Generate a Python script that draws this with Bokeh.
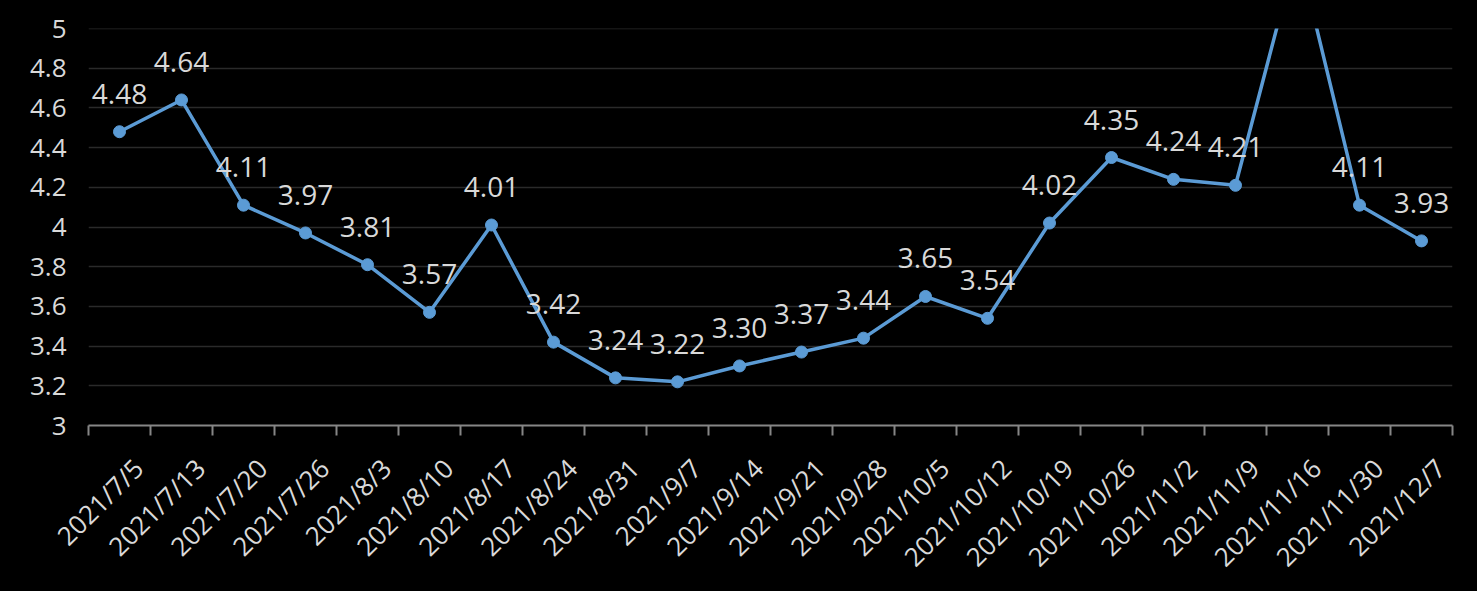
from bokeh.plotting import figure
from bokeh.models import ColumnDataSource, Range1d, FixedTicker
from bokeh.core.properties import value
from bokeh.embed import file_html
from bokeh.resources import INLINE
import math

dates = ["2021/7/5", "2021/7/13", "2021/7/20", "2021/7/26", "2021/8/3", "2021/8/10",
         "2021/8/17", "2021/8/24", "2021/8/31", "2021/9/7", "2021/9/14", "2021/9/21",
         "2021/9/28", "2021/10/5", "2021/10/12", "2021/10/19", "2021/10/26", "2021/11/2",
         "2021/11/9", "2021/11/16", "2021/11/30", "2021/12/7"]
values = [4.48, 4.64, 4.11, 3.97, 3.81, 3.57, 4.01, 3.42, 3.24, 3.22, 3.30, 3.37,
          3.44, 3.65, 3.54, 4.02, 4.35, 4.24, 4.21, 5.40, 4.11, 3.93]
y_ticks = [3, 3.2, 3.4, 3.6, 3.8, 4, 4.2, 4.4, 4.6, 4.8, 5]
y_tick_labels = ["3", "3.2", "3.4", "3.6", "3.8", "4", "4.2", "4.4", "4.6", "4.8", "5"]

Y_MIN, Y_MAX = 3, 5
FONT = "Open Sans"
TXT = "#D9D9D9"
LINE = "#5B9BD5"
LABEL_SHIFT = 0.3   # category label anchor sits a little right of the centre

xs = list(range(len(dates)))
src = ColumnDataSource(dict(x=xs, y=values))
lab_idx = [i for i, v in enumerate(values) if Y_MIN <= v <= Y_MAX]
lab_src = ColumnDataSource(dict(x=[xs[i] for i in lab_idx], y=[values[i] for i in lab_idx],
                                lbl=["%.2f" % values[i] for i in lab_idx]))

p = figure(width=1477, height=591, output_backend="svg", toolbar_location=None,
           x_range=Range1d(-0.5, len(dates) - 0.5), y_range=Range1d(Y_MIN, Y_MAX),
           min_border_left=88, min_border_right=25, min_border_top=28, min_border_bottom=166)
p.background_fill_color = "black"
p.border_fill_color = "black"
p.outline_line_color = None

# y axis
p.yaxis.ticker = FixedTicker(ticks=y_ticks)
p.yaxis.major_label_overrides = {t: s for t, s in zip(y_ticks, y_tick_labels)}
p.yaxis.axis_line_color = None
p.yaxis.major_tick_line_color = None
p.yaxis.minor_tick_line_color = None
p.yaxis.major_label_text_color = TXT
p.yaxis.major_label_text_font = FONT
p.yaxis.major_label_text_font_size = "26px"
p.yaxis.major_label_standoff = 16

# x axis: labels near category centres, ticks at category boundaries
label_pos = [i + LABEL_SHIFT for i in xs]
p.xaxis.ticker = FixedTicker(ticks=label_pos, minor_ticks=[i - 0.5 for i in range(len(dates) + 1)])
p.xaxis.major_label_overrides = {pos: d for pos, d in zip(label_pos, dates)}
p.xaxis.major_label_orientation = math.pi / 4
p.xaxis.axis_line_color = "#868686"
p.xaxis.axis_line_width = 2
p.xaxis.major_tick_line_color = None
p.xaxis.minor_tick_line_color = "#868686"
p.xaxis.minor_tick_line_width = 2
p.xaxis.minor_tick_in = 0
p.xaxis.minor_tick_out = 10
p.xaxis.major_label_text_color = TXT
p.xaxis.major_label_text_font = FONT
p.xaxis.major_label_text_font_size = "26px"
p.xaxis.major_label_standoff = 28

p.grid.visible = False
p.hspan(y=y_ticks[1:], line_color="#2A2A2A", line_width=1.5)

p.line("x", "y", source=src, line_color=LINE, line_width=3.5)
p.scatter("x", "y", source=src, size=12, fill_color=LINE, line_color=LINE)

p.text(x="x", y="y", text="lbl", source=lab_src, text_align="center",
       text_baseline="alphabetic", y_offset=-38, text_color=TXT,
       text_font=value(FONT), text_font_size="28px")

html = file_html(p, INLINE)
# black page behind the canvas, so no light seams show at the frame edges
html = html.replace("<head>", "<head><style>html, body { background: #000; margin: 0; }</style>", 1)
open("out.html", "w").write(html)
